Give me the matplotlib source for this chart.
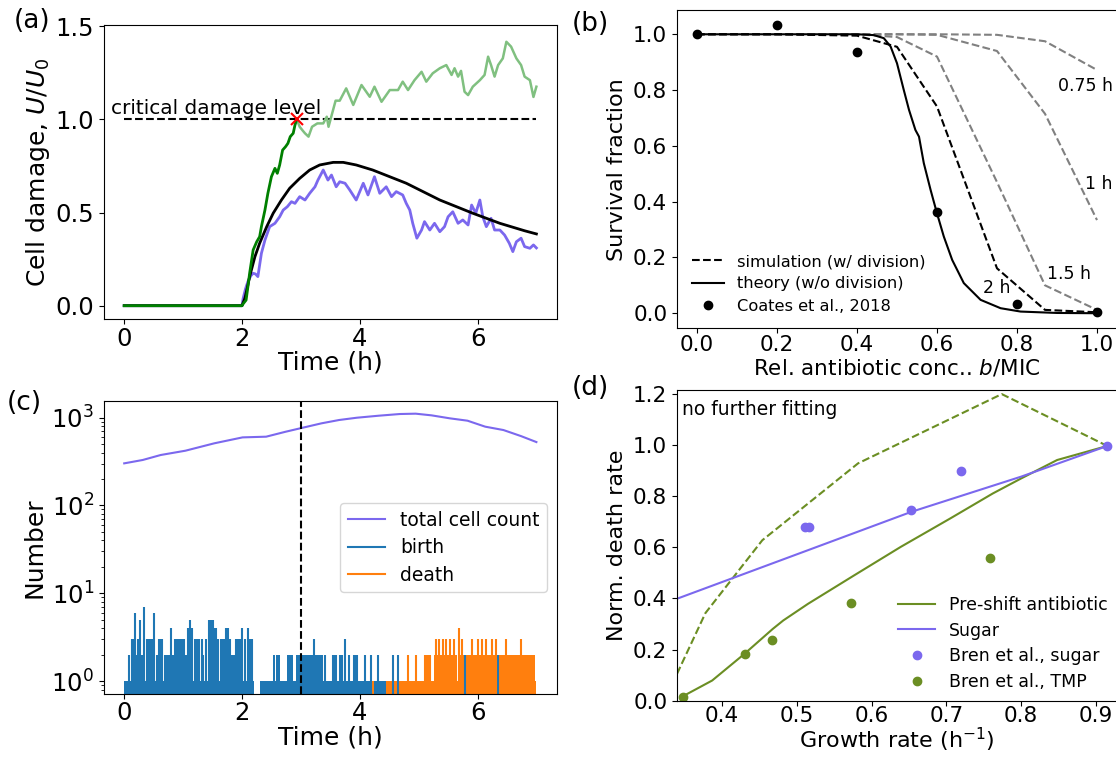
import matplotlib
matplotlib.use("Agg")
import matplotlib.pyplot as plt
from matplotlib.lines import Line2D

plt.rcParams['font.family'] = ['DejaVu Sans']
plt.rcParams['mathtext.fontset'] = 'dejavusans'

# ---------------- panel (a) data ----------------
crit_level = 1.0
theory_t = [0, 2.0, 2.05, 2.10, 2.13, 2.22, 2.30, 2.42, 2.53, 2.67, 2.81, 2.98, 3.15, 3.32,
            3.55, 3.72, 3.94, 4.22, 4.79, 5.36, 5.92, 6.38, 6.80, 7.0]
theory_u = [0, 0, 0.04, 0.11, 0.156, 0.263, 0.335, 0.424, 0.496, 0.567, 0.63, 0.683, 0.728, 0.755,
            0.769, 0.769, 0.755, 0.728, 0.657, 0.567, 0.496, 0.442, 0.402, 0.385]
surv_t = [0, 2.0, 2.02, 2.06, 2.10, 2.15, 2.19, 2.23, 2.27, 2.33, 2.39, 2.47, 2.56, 2.64, 2.70,
          2.77, 2.84, 2.90, 2.98, 3.07, 3.15, 3.24, 3.29, 3.38, 3.46, 3.52, 3.60, 3.66, 3.75,
          3.83, 3.94, 4.06, 4.14, 4.25, 4.34, 4.45, 4.54, 4.62, 4.73, 4.79, 4.85, 4.90, 4.97,
          5.05, 5.10, 5.19, 5.27, 5.36, 5.44, 5.50, 5.58, 5.67, 5.75, 5.84, 5.90, 5.97, 6.04,
          6.09, 6.15, 6.23, 6.29, 6.38, 6.46, 6.54, 6.60, 6.66, 6.74, 6.80, 6.89, 6.95, 7.0]
surv_u = [0, 0, 0.04, 0.09, 0.129, 0.16, 0.174, 0.17, 0.156, 0.281, 0.352, 0.424, 0.442, 0.477,
          0.513, 0.531, 0.558, 0.549, 0.585, 0.567, 0.603, 0.638, 0.674, 0.728, 0.674, 0.701,
          0.638, 0.665, 0.657, 0.621, 0.567, 0.657, 0.594, 0.692, 0.603, 0.638, 0.585, 0.612,
          0.594, 0.549, 0.513, 0.442, 0.362, 0.406, 0.451, 0.406, 0.442, 0.397, 0.424, 0.477,
          0.504, 0.442, 0.46, 0.433, 0.54, 0.496, 0.567, 0.477, 0.424, 0.469, 0.406, 0.406,
          0.379, 0.335, 0.29, 0.343, 0.362, 0.317, 0.308, 0.326, 0.31]
dead_t = [0, 2.0, 2.02, 2.07, 2.10, 2.13, 2.19, 2.25, 2.30, 2.33, 2.39, 2.44, 2.50, 2.56, 2.60,
          2.64, 2.69, 2.74, 2.78, 2.82, 2.87, 2.90, 2.93]
dead_u = [0, 0, 0.01, 0.03, 0.10, 0.174, 0.299, 0.343, 0.37, 0.424, 0.513, 0.603, 0.692, 0.737,
          0.71, 0.755, 0.835, 0.853, 0.871, 0.907, 0.925, 0.969, 1.0]
after_t = [2.93, 2.98, 3.03, 3.07, 3.13, 3.19, 3.28, 3.38, 3.44, 3.47, 3.53, 3.59, 3.66, 3.77,
           3.89, 4.03, 4.17, 4.25, 4.37, 4.51, 4.65, 4.73, 4.82, 4.93, 5.05, 5.13, 5.24, 5.36,
           5.47, 5.56, 5.61, 5.67, 5.72, 5.78, 5.84, 5.92, 6.04, 6.12, 6.18, 6.23, 6.29, 6.35,
           6.43, 6.49, 6.57, 6.66, 6.74, 6.80, 6.89, 6.95, 7.0]
after_u = [1.0, 0.96, 0.94, 0.925, 0.907, 0.96, 0.978, 0.978, 1.014, 0.96, 1.03, 1.10, 1.10,
           1.166, 1.077, 1.184, 1.121, 1.175, 1.094, 1.157, 1.157, 1.202, 1.157, 1.21, 1.255,
           1.202, 1.247, 1.274, 1.291, 1.238, 1.274, 1.229, 1.26, 1.148, 1.13, 1.175, 1.21,
           1.238, 1.336, 1.291, 1.229, 1.291, 1.327, 1.416, 1.39, 1.327, 1.291, 1.229, 1.21,
           1.12, 1.175]
cross_t, cross_u = 2.93, 1.0

# ---------------- panel (b) data ----------------
conc = [0.0, 0.2, 0.4, 0.5, 0.6, 0.75, 0.87, 1.0]
sim_2h = [1.0, 1.0, 0.995, 0.955, 0.741, 0.161, 0.012, 0.0035]
sim_15h = [1.0, 1.0, 1.0, 0.99, 0.92, 0.47, 0.10, 0.012]
sim_1h = [1.0, 1.0, 1.0, 1.0, 0.998, 0.94, 0.715, 0.334]
sim_075h = [1.0, 1.0, 1.0, 1.0, 1.0, 0.998, 0.975, 0.872]
theo_conc = [0.0, 0.2, 0.4, 0.442, 0.467, 0.484, 0.5, 0.517, 0.53, 0.546, 0.555, 0.567, 0.584,
             0.6, 0.617, 0.638, 0.667, 0.709, 0.759, 0.809, 0.9, 1.0]
theo_surv = [1.0, 1.0, 1.0, 0.997, 0.986, 0.956, 0.896, 0.80, 0.729, 0.657, 0.633, 0.538, 0.442,
             0.358, 0.275, 0.191, 0.108, 0.048, 0.018, 0.006, 0.001, 0.0]
coates_x = [0.0, 0.2, 0.4, 0.6, 0.8, 1.0]
coates_y = [1.0, 1.033, 0.938, 0.362, 0.032, 0.004]
time_labels = ["0.75 h", "1 h", "1.5 h", "2 h"]
time_label_pos = [(0.903, 0.815), (0.97, 0.462), (0.874, 0.14), (0.714, 0.09)]

# ---------------- panel (c) data ----------------
count_t = [0, 0.315, 0.62, 1.04, 1.53, 2.01, 2.41, 2.74, 3.03, 3.35, 3.65, 3.95, 4.32, 4.68,
           4.95, 5.22, 5.53, 5.83, 6.13, 6.44, 6.74, 7.0]
count_n = [302, 330, 376, 421, 511, 597, 608, 692, 769, 863, 942, 1000, 1054, 1102, 1112, 1064,
           984, 925, 791, 724, 617, 528]
birth_base_spans = [(0.0, 0.305), (0.318, 0.67), (0.68, 0.97), (0.98, 2.21), (2.31, 4.44),
                    (4.56, 4.59)]
birth_lvl2_spans = [(2.52, 2.56), (2.58, 2.64), (2.69, 2.70), (2.77, 2.87), (2.92, 3.38)]
birth_spike_t = [0.085, 0.136, 0.153, 0.181, 0.21, 0.227, 0.266, 0.295, 0.34, 0.38, 0.41, 0.436,
                 0.464, 0.504, 0.56, 0.594, 0.622, 0.65, 0.70, 0.73, 0.76, 0.792, 0.82, 0.843,
                 0.87, 0.90, 0.928, 0.956, 0.985, 1.01, 1.047, 1.07, 1.087, 1.115, 1.143, 1.21,
                 1.24, 1.268, 1.313, 1.341, 1.386, 1.443, 1.471, 1.5, 1.533, 1.567, 1.595, 1.641,
                 1.669, 1.692, 1.737, 1.765, 1.793, 1.821, 1.85, 1.878, 1.907, 1.935, 1.963,
                 2.008, 2.048, 2.104, 2.133, 2.178, 3.22, 3.41, 3.55, 3.58, 3.60, 3.67, 3.70,
                 3.745, 3.81, 3.90, 3.93, 3.95, 4.09, 4.19, 4.31, 4.56, 4.65, 5.79, 6.34]
birth_spike_n = [2, 3, 3, 6, 2, 3, 5, 2, 7, 3, 3, 3,
                 3, 6, 2, 3, 3, 3, 2, 2, 2, 4, 2, 2,
                 3, 3, 3, 3, 3, 3, 2, 2, 4, 5, 4, 3,
                 3, 3, 3, 2, 3, 5, 5, 5, 4, 4, 3, 3,
                 3, 3, 4, 4, 3, 2, 2, 2, 3, 3, 3,
                 4, 3, 4, 3, 3, 3, 2, 2, 2, 2, 2, 2,
                 3, 2, 2, 2, 2, 2, 2, 2, 2, 2, 2, 2]
death_base_spans = [(4.07, 4.10), (4.20, 4.25), (4.44, 4.56), (4.59, 7.0)]
death_lvl2_spans = [(5.26, 5.65), (5.67, 5.77), (5.81, 6.33), (6.35, 6.98)]
death_spike_t = [4.82, 4.96, 5.10, 5.14, 5.17, 5.20, 5.30, 5.35, 5.41, 5.47, 5.53, 5.60, 5.69,
                 5.73, 5.91, 6.01, 6.08, 6.15, 6.25, 6.32, 6.49, 6.74]
death_spike_n = [2, 2, 2, 2, 2, 2, 3, 3, 3, 3, 3, 3, 4,
                 3, 3, 3, 3, 3, 3, 3, 3, 3]
shift_time = 3.0

# ---------------- panel (d) data ----------------
sugar_line_x = [0.34, 0.515, 0.653, 0.80, 0.915]
sugar_line_y = [0.399, 0.589, 0.739, 0.877, 0.997]
abx_line_x = [0.347, 0.387, 0.43, 0.468, 0.482, 0.515, 0.577, 0.639, 0.705, 0.762, 0.80, 0.848, 0.915]
abx_line_y = [0.016, 0.079, 0.183, 0.281, 0.314, 0.379, 0.491, 0.602, 0.713, 0.811, 0.870, 0.942, 0.997]
abx_dash_x = [0.34, 0.378, 0.454, 0.582, 0.774, 0.915]
abx_dash_y = [0.105, 0.343, 0.628, 0.929, 1.2, 0.997]
bren_sugar_x = [0.511, 0.516, 0.653, 0.72, 0.915]
bren_sugar_y = [0.678, 0.678, 0.746, 0.90, 0.997]
bren_tmp_x = [0.348, 0.431, 0.467, 0.573, 0.758]
bren_tmp_y = [0.016, 0.183, 0.238, 0.382, 0.56]

PURPLE = '#7B68EE'
OLIVE = '#6B8E23'

W, H = 1116, 759
fig = plt.figure(figsize=(W / 100, H / 100), dpi=100)


def ax_px(left, top, right, bottom):
    return fig.add_axes([left / W, 1 - bottom / H, (right - left) / W, (bottom - top) / H])


ax_a = ax_px(103.6, 25, 557, 319)
ax_b = ax_px(677, 10, 1117, 328.3)
ax_c = ax_px(103.6, 400.7, 557, 694)
ax_d = ax_px(677, 390, 1117, 700.7)

# ---- (a)
ax_a.plot(surv_t, surv_u, color=PURPLE, lw=2)
ax_a.plot(theory_t, theory_u, color='black', lw=2)
ax_a.plot([0, 7], [crit_level, crit_level], 'k--', lw=1.5)
ax_a.plot(after_t, after_u, color='#80c080', lw=1.8)
ax_a.plot(dead_t, dead_u, color='green', lw=2)
ax_a.plot([cross_t], [cross_u], 'x', color='red', ms=8, mew=1.5)
ax_a.text(-0.23, 1.03, 'critical damage level', fontsize=14.5, va='baseline')
ax_a.set_xlim(-0.35, 7.35)
ax_a.set_ylim(-0.0714, 1.506)
ax_a.set_xticks([0, 2, 4, 6])
ax_a.set_yticks([0.0, 0.5, 1.0, 1.5])
ax_a.tick_params(labelsize=17.5)
ax_a.tick_params(axis='x', pad=2)
ax_a.set_xlabel('Time (h)', fontsize=18, labelpad=0)
ax_a.set_ylabel('Cell damage, $U/U_0$', fontsize=18, labelpad=2)

# ---- (b)
ax_b.plot(conc, sim_075h, '--', color='gray', lw=1.5)
ax_b.plot(conc, sim_1h, '--', color='gray', lw=1.5)
ax_b.plot(conc, sim_15h, '--', color='gray', lw=1.5)
ax_b.plot(conc, sim_2h, 'k--', lw=1.5, label='simulation (w/ division)')
ax_b.plot(theo_conc, theo_surv, 'k-', lw=1.5, label='theory (w/o division)')
ax_b.plot(coates_x, coates_y, 'o', color='black', ms=6, label='Coates et al., 2018')
for lab, (x, y) in zip(time_labels, time_label_pos):
    ax_b.text(x, y, lab, fontsize=12.5, va='center', ha='left')
ax_b.set_xlim(-0.05, 1.05)
ax_b.set_ylim(-0.054, 1.087)
ax_b.set_xticks([0, 0.2, 0.4, 0.6, 0.8, 1.0])
ax_b.set_yticks([0, 0.2, 0.4, 0.6, 0.8, 1.0])
ax_b.tick_params(labelsize=15.5)
ax_b.tick_params(axis='x', pad=1)
ax_b.set_xlabel('Rel. antibiotic conc.. $b$/MIC', fontsize=15.5, labelpad=2)
ax_b.set_ylabel('Survival fraction', fontsize=16)
ax_b.legend(loc='lower left', frameon=False, fontsize=11.7, labelspacing=0.45,
            handlelength=2.0)

# ---- (c)
ax_c.set_yscale('log')
ylo = 0.5
for s, e in birth_base_spans:
    ax_c.fill_between([s, e], ylo, 1, color='#1f77b4', lw=0)
for s, e in birth_lvl2_spans:
    ax_c.fill_between([s, e], ylo, 2, color='#1f77b4', lw=0)
ax_c.vlines(birth_spike_t, ylo, birth_spike_n, color='#1f77b4', lw=1.5)
for s, e in death_base_spans:
    ax_c.fill_between([s, e], ylo, 1, color='#ff7f0e', lw=0)
for s, e in death_lvl2_spans:
    ax_c.fill_between([s, e], ylo, 2, color='#ff7f0e', lw=0)
ax_c.vlines(death_spike_t, ylo, death_spike_n, color='#ff7f0e', lw=1.5)
ax_c.plot(count_t, count_n, color=PURPLE, lw=1.5)
ax_c.axvline(shift_time, color='black', ls='--', lw=1.5)
ax_c.set_xlim(-0.35, 7.35)
ax_c.set_ylim(0.711, 1563)
ax_c.set_xticks([0, 2, 4, 6])
ax_c.tick_params(labelsize=17.5)
ax_c.tick_params(axis='x', pad=1.5)
ax_c.set_xlabel('Time (h)', fontsize=18, labelpad=0.5)
ax_c.set_ylabel('Number', fontsize=18, labelpad=3)
handles = [Line2D([], [], color=PURPLE, lw=1.5), Line2D([], [], color='#1f77b4', lw=1.5),
           Line2D([], [], color='#ff7f0e', lw=1.5)]
ax_c.legend(handles, ['total cell count', 'birth', 'death'], loc='lower right',
            bbox_to_anchor=(0.978, 0.347), borderaxespad=0, fontsize=13.5, labelspacing=0.45)

# ---- (d)
ax_d.plot(abx_dash_x, abx_dash_y, '--', color=OLIVE, lw=1.5)
ax_d.plot(abx_line_x, abx_line_y, '-', color=OLIVE, lw=1.5, label='Pre-shift antibiotic')
ax_d.plot(sugar_line_x, sugar_line_y, '-', color=PURPLE, lw=1.5, label='Sugar')
ax_d.plot(bren_sugar_x, bren_sugar_y, 'o', color=PURPLE, ms=6, label='Bren et al., sugar')
ax_d.plot(bren_tmp_x, bren_tmp_y, 'o', color=OLIVE, ms=6, label='Bren et al., TMP')
ax_d.text(0.012, 0.968, 'no further fitting', transform=ax_d.transAxes, fontsize=13.5, va='top')
ax_d.set_xlim(0.34, 0.928)
ax_d.set_ylim(0, 1.216)
ax_d.set_xticks([0.4, 0.5, 0.6, 0.7, 0.8, 0.9])
ax_d.set_yticks([0, 0.2, 0.4, 0.6, 0.8, 1.0, 1.2])
ax_d.tick_params(labelsize=15.5)
ax_d.tick_params(axis='x', pad=0.5)
ax_d.set_xlabel('Growth rate (h$^{-1}$)', fontsize=16, labelpad=0)
ax_d.set_ylabel('Norm. death rate', fontsize=16)
ax_d.legend(loc='lower right', frameon=False, fontsize=12.5, labelspacing=0.45,
            handlelength=2.1, borderaxespad=0.15)

# panel labels
for lab, (x, y) in zip(['(a)', '(b)', '(c)', '(d)'], [(14, 8), (572, 11), (7, 390), (572, 375)]):
    fig.text(x / W, 1 - y / H, lab, fontsize=19, va='top', ha='left')

fig.savefig('out.png', dpi=100)
